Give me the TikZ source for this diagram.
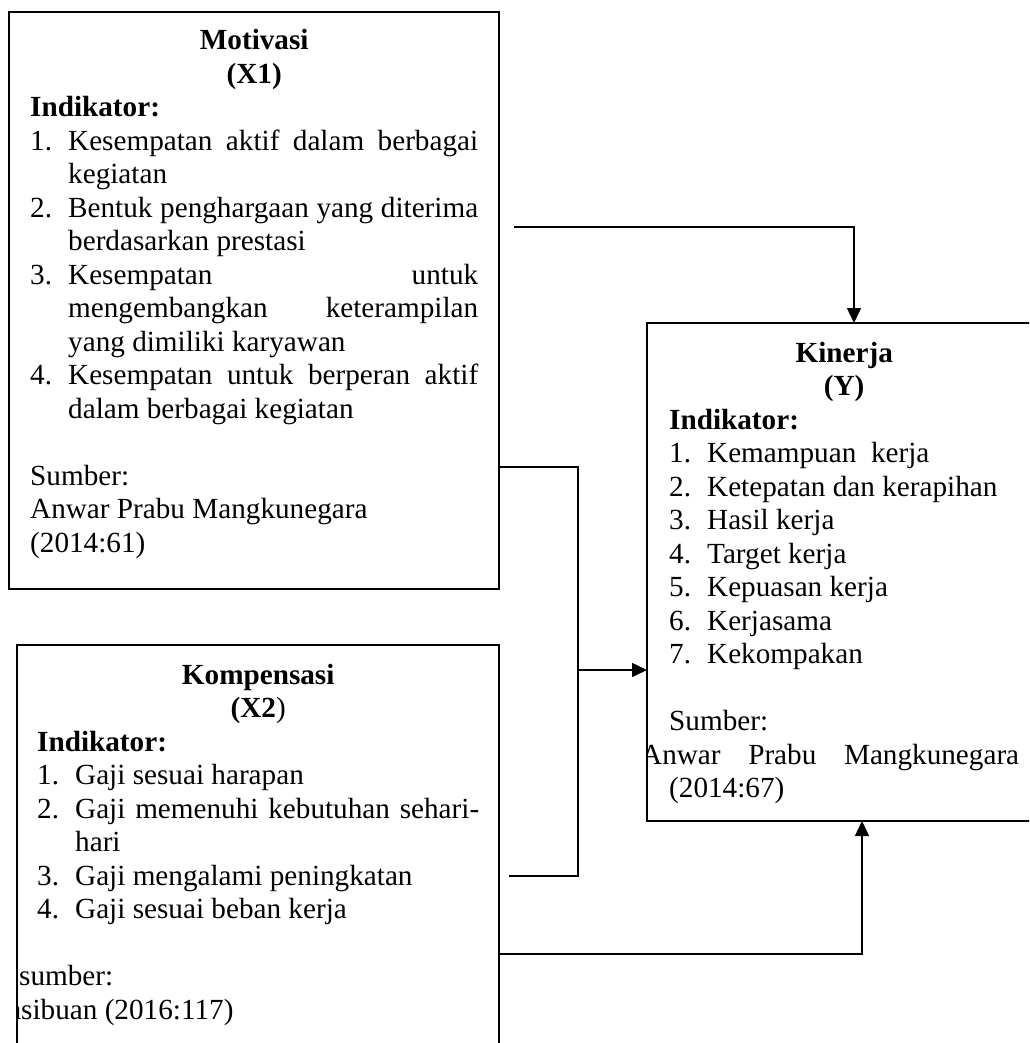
\documentclass[tikz,border=0pt]{standalone}
\usepackage{fontspec}
\setmainfont{Liberation Serif}
\usetikzlibrary{arrows.meta}
\newcommand{\teks}{\fontsize{29.2pt}{33.5pt}\selectfont\hyphenpenalty=10000\tolerance=10000\hbadness=10000\parindent=0pt}
\newcommand{\judul}[1]{{\centering\bfseries #1\par}}
\newcommand{\butir}[2]{\par\hangindent=38pt\hangafter=1\noindent\makebox[38pt][l]{#1}#2\par}

\begin{document}
\begin{tikzpicture}[x=1pt, y=-1pt,
    box/.style={draw, line width=2.2pt, anchor=north west, inner sep=0pt, outer sep=0pt},
    txt/.style={anchor=base west, inner sep=0pt, align=justify},
    link/.style={line width=1.5pt},
    tip/.style={-{Triangle[length=15pt,width=14pt]}}]
\useasboundingbox (0,0) rectangle (1029,1043);
\clip (0,0) rectangle (1029,1043);

% kotak variabel
\node[box, minimum width=490pt, minimum height=577pt] (x1) at (9,12) {};
\node[box, minimum width=482pt, minimum height=440pt] (x2) at (17,645) {};
\node[box, minimum width=394pt, minimum height=498pt] (y) at (647,323) {};

% isi kotak
\begin{scope}
\clip (x1.north west) rectangle (x1.south east);
\node[txt, text width=448pt] (x1teks) at (30,50) {\teks
  \judul{Motivasi\\(X1)}
  \textbf{Indikator:}\par
  \butir{1.}{Kesempatan aktif dalam berbagai\linebreak kegiatan}
  \butir{2.}{Bentuk penghargaan yang diterima\linebreak berdasarkan prestasi}
  \butir{3.}{Kesempatan untuk\linebreak mengembangkan keterampilan\linebreak yang dimiliki karyawan}
  \butir{4.}{Kesempatan untuk berperan aktif\linebreak dalam berbagai kegiatan}
  \mbox{}\par
  Sumber:\par
  Anwar Prabu Mangkunegara\par
  (2014:61)\par};
\end{scope}

\begin{scope}
\clip (x2.north west) rectangle (x2.south east);
\node[txt, text width=442pt] (x2teks) at (37,684) {\teks
  \judul{Kompensasi\\(X2\textmd{)}}
  \textbf{Indikator:}\par
  \butir{1.}{Gaji sesuai harapan}
  \butir{2.}{Gaji memenuhi kebutuhan sehari-\linebreak hari}
  \butir{3.}{Gaji mengalami peningkatan}
  \butir{4.}{Gaji sesuai beban kerja}
  \mbox{}\par
  \noindent\hspace*{-18pt}sumber:\par
  \noindent\hspace*{-50pt}Hasibuan (2016:117)\par};
\end{scope}

\begin{scope}
\clip (y.north west) rectangle (y.south east);
\node[txt, text width=350pt] (yteks) at (669,362) {\teks
  \judul{Kinerja\\(Y)}
  \textbf{Indikator:}\par
  \butir{1.}{Kemampuan\ \ kerja}
  \butir{2.}{Ketepatan dan kerapihan}
  \butir{3.}{Hasil kerja}
  \butir{4.}{Target kerja}
  \butir{5.}{Kepuasan kerja}
  \butir{6.}{Kerjasama}
  \butir{7.}{Kekompakan}
  \mbox{}\par
  Sumber:\par
  \noindent\hspace*{-28pt}Anwar Prabu Mangkunegara\linebreak (2014:67)\par};
\end{scope}

% garis hubungan
\coordinate (a1) at (514,227);
\draw[link, tip] (a1) -| ([xshift=207pt]y.north west);

\coordinate (b1) at (578,467);
\coordinate (b2) at (578,876);
\coordinate (b3) at (509,876);
\coordinate (b4) at (578,670);
\draw[link] (x1.east |- b1) -- (b1) -- (b2) -- (b3);
\draw[link, tip] (b4) -- (y.west |- b4);

\coordinate (c1) at (862,954);
\draw[link, tip] (x2.east |- c1) -- (c1) -- (c1 |- y.south);
\end{tikzpicture}
\end{document}
